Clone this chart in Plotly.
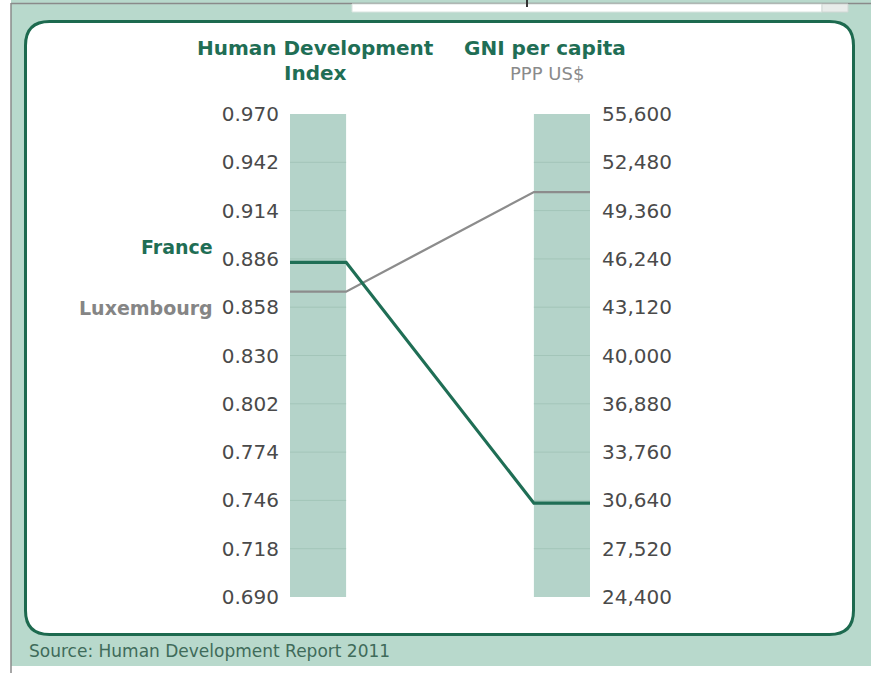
import plotly.graph_objects as go

# data (HDR 2011)
countries = ["Luxembourg", "France"]
hdi_values = [0.867, 0.884]
gni_values = [50557, 30462]

hdi_ticks = [0.970, 0.942, 0.914, 0.886, 0.858, 0.830, 0.802, 0.774, 0.746, 0.718, 0.690]
gni_ticks = [55600, 52480, 49360, 46240, 43120, 40000, 36880, 33760, 30640, 27520, 24400]

hdi_title = "Human Development"
hdi_title2 = "Index"
gni_title = "GNI per capita"
gni_unit = "PPP US$"
source_text = "Source: Human Development Report 2011"

# styling
W, H = 871, 673
L, R, T, B = 290, 281, 114, 76
PW, PH = W - L - R, H - T - B
FONT = "DejaVu Sans"
GREEN = "#1f6e55"
PAGE = "#b8d9cc"
BAR = "#b4d3c9"
BAR_GRID = "#a3c5b9"
line_colors = {"France": GREEN, "Luxembourg": "#8c8c8c"}
line_widths = {"France": 3.2, "Luxembourg": 2.3}
label_colors = {"France": GREEN, "Luxembourg": "#858585"}
label_shift = {"France": 15, "Luxembourg": -16}

bar_w = 0.23
hdi_lo, hdi_hi = min(hdi_ticks), max(hdi_ticks)
gni_lo, gni_hi = min(gni_ticks), max(gni_ticks)


def xp(px):
    return (px - L) / PW


def yp(py):
    return (H - B - py) / PH


def gni_on_hdi(v):
    # place a GNI value on the HDI axis so both scales line up
    return hdi_lo + (v - gni_lo) / (gni_hi - gni_lo) * (hdi_hi - hdi_lo)


def rounded_path(x0, y0, x1, y1, r):
    pts = [
        ("M", [(x0 + r, y0)]),
        ("L", [(x1 - r, y0)]),
        ("Q", [(x1, y0), (x1, y0 + r)]),
        ("L", [(x1, y1 - r)]),
        ("Q", [(x1, y1), (x1 - r, y1)]),
        ("L", [(x0 + r, y1)]),
        ("Q", [(x0, y1), (x0, y1 - r)]),
        ("L", [(x0, y0 + r)]),
        ("Q", [(x0, y0), (x0 + r, y0)]),
    ]
    out = []
    for cmd, ps in pts:
        out.append(cmd + " ".join(f"{xp(a):.5f},{yp(b):.5f}" for a, b in ps))
    return " ".join(out) + " Z"


fig = go.Figure()

for name, h, g in zip(countries, hdi_values, gni_values):
    fig.add_trace(go.Scatter(
        x=[-bar_w / 2, bar_w / 2, 1 - bar_w / 2, 1 + bar_w / 2],
        y=[h, h, gni_on_hdi(g), gni_on_hdi(g)],
        mode="lines",
        line=dict(color=line_colors[name], width=line_widths[name]),
        name=name,
        hoverinfo="skip",
    ))

# invisible trace to carry the right axis
fig.add_trace(go.Scatter(x=[1], y=[gni_lo], yaxis="y2", mode="markers",
                         marker=dict(opacity=0), hoverinfo="skip", showlegend=False))

shapes = [
    # white strips outside the page frame
    dict(type="rect", xref="paper", yref="paper", x0=xp(0), x1=xp(11), y0=yp(0), y1=yp(H),
         fillcolor="white", line_width=0, layer="below"),
    dict(type="rect", xref="paper", yref="paper", x0=xp(0), x1=xp(W), y0=yp(666), y1=yp(H),
         fillcolor="white", line_width=0, layer="below"),
    dict(type="line", xref="paper", yref="paper", x0=xp(11), x1=xp(W), y0=yp(3.5), y1=yp(3.5),
         line=dict(color="#8a8a8a", width=1.5), layer="below"),
    dict(type="line", xref="paper", yref="paper", x0=xp(11), x1=xp(11), y0=yp(3), y1=yp(H),
         line=dict(color="#8a8a8a", width=1.5), layer="below"),
    # cut-off tab at the top
    dict(type="rect", xref="paper", yref="paper", x0=xp(352), x1=xp(822), y0=yp(4), y1=yp(12),
         fillcolor="white", line=dict(color="#d8e4df", width=1), layer="below"),
    dict(type="rect", xref="paper", yref="paper", x0=xp(822), x1=xp(848), y0=yp(4), y1=yp(12),
         fillcolor="#e8ecea", line=dict(color="#d0d8d4", width=1), layer="below"),
    dict(type="line", xref="paper", yref="paper", x0=xp(527), x1=xp(527), y0=yp(0), y1=yp(7),
         line=dict(color="#333333", width=2), layer="below"),
    # white card
    dict(type="path", xref="paper", yref="paper", path=rounded_path(25.5, 21.5, 853.5, 634.5, 24),
         fillcolor="white", line=dict(color="#1d6a4f", width=3), layer="below"),
]

# the two columns and their faint grid
for cx in (0, 1):
    shapes.append(dict(type="rect", xref="x", yref="y", x0=cx - bar_w / 2, x1=cx + bar_w / 2,
                       y0=hdi_lo, y1=hdi_hi, fillcolor=BAR, line_width=0, layer="below"))
    for t in hdi_ticks[1:-1]:
        shapes.append(dict(type="line", xref="x", yref="y", x0=cx - bar_w / 2, x1=cx + bar_w / 2,
                           y0=t, y1=t, line=dict(color=BAR_GRID, width=1), layer="below"))

annotations = [
    dict(text=f"<b>{hdi_title}</b>", x=xp(315), y=yp(48), font=dict(size=20, color=GREEN)),
    dict(text=f"<b>{hdi_title2}</b>", x=xp(315), y=yp(73), font=dict(size=20, color=GREEN)),
    dict(text=f"<b>{gni_title}</b>", x=xp(545), y=yp(48), font=dict(size=20, color=GREEN)),
    dict(text=gni_unit, x=xp(547), y=yp(73), font=dict(size=18, color="#8a8a8a")),
    dict(text=source_text, x=xp(27), y=yp(651), xanchor="left", font=dict(size=17, color="#3f6b5a")),
]
for a in annotations:
    a.update(xref="paper", yref="paper", showarrow=False, yanchor="middle")
    a.setdefault("xanchor", "center")

for name, h in zip(countries, hdi_values):
    annotations.append(dict(
        text=f"<b>{name}</b>", xref="paper", yref="y", x=xp(215), y=h,
        yshift=label_shift[name], xanchor="right", yanchor="middle", showarrow=False,
        font=dict(size=19, color=label_colors[name]),
    ))

fig.update_layout(
    width=W, height=H,
    margin=dict(l=L, r=R, t=T, b=B, pad=0),
    paper_bgcolor=PAGE,
    plot_bgcolor="rgba(0,0,0,0)",
    showlegend=False,
    font=dict(family=FONT, color="#4a4a4a", size=20),
    xaxis=dict(range=[-bar_w / 2, 1 + bar_w / 2], visible=False, fixedrange=True),
    yaxis=dict(range=[hdi_lo, hdi_hi], tickvals=hdi_ticks, tickformat=".3f",
               showgrid=False, zeroline=False, showline=False,
               ticks="outside", ticklen=6, tickcolor="rgba(0,0,0,0)",
               tickfont=dict(size=20, color="#4a4a4a")),
    yaxis2=dict(range=[gni_lo, gni_hi], tickvals=gni_ticks, tickformat=",d",
                overlaying="y", side="right",
                showgrid=False, zeroline=False, showline=False,
                ticks="outside", ticklen=7, tickcolor="rgba(0,0,0,0)",
                tickfont=dict(size=20, color="#4a4a4a")),
    shapes=shapes,
    annotations=annotations,
)

fig.write_html("out.html", config={"displayModeBar": False},
               post_script="document.body.style.margin='0';")
